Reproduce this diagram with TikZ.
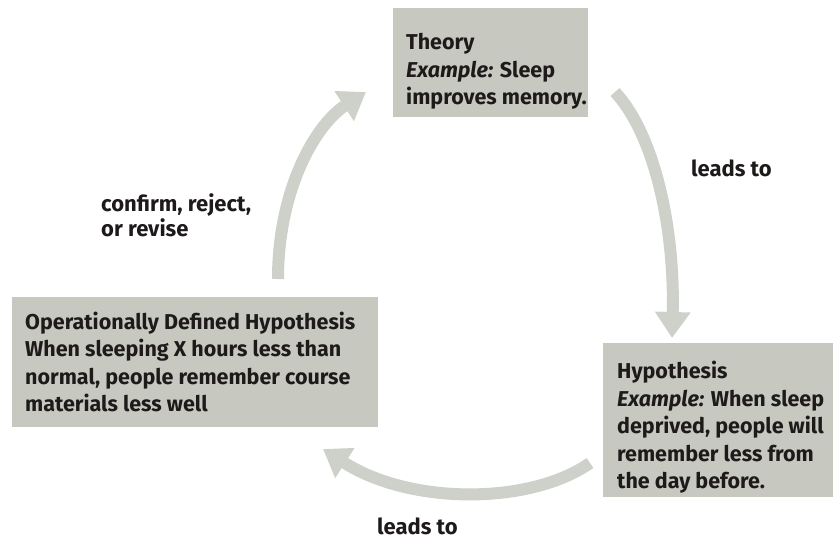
\documentclass[tikz,border=0pt]{standalone}
\usepackage{fontspec}
\setmainfont{Fira Sans}
\usetikzlibrary{arrows.meta}
\definecolor{boxgray}{RGB}{199,200,192}
\definecolor{arrowgray}{RGB}{206,208,202}
\definecolor{ink}{RGB}{30,26,26}
\tikzset{
  box/.style={draw=none, fill=boxgray, anchor=north west, inner sep=0pt},
  txt/.style={anchor=west, align=left, inner sep=0pt, text=ink,
    font=\fontsize{21.5}{27.5}\selectfont\bfseries},
  lbl/.style={text=ink, align=left, inner sep=0pt,
    font=\fontsize{22}{25}\selectfont\bfseries},
  cyc/.style={draw=arrowgray, line width=12pt,
    -{Triangle[width=34pt,length=26pt]}, arrowgray},
}
\begin{document}
\begin{tikzpicture}[x=1pt,y=-1pt]
\useasboundingbox (0,0) rectangle (833,542);
\node[box, minimum width=195pt, minimum height=109pt] (theory) at (393,8) {};
\node[box, minimum width=230pt, minimum height=154pt] (hyp) at (603,343) {};
\node[box, minimum width=366pt, minimum height=130pt] (op) at (12,297) {};
\node[txt] (theoryt) at ([xshift=13pt,yshift=-9pt]theory.west)
  {Theory\\\textit{Example:} Sleep\\improves memory.};
\node[txt] (hypt) at ([xshift=14pt,yshift=-7pt]hyp.west)
  {Hypothesis\\\textit{Example:} When sleep\\deprived, people will\\remember less from\\the day before.};
\node[txt] (opt) at ([xshift=13pt,yshift=0pt]op.west)
  {Operationally Defined Hypothesis\\When sleeping X hours less than\\normal, people remember course\\materials less well};
\coordinate (a1s) at (615,92);
\coordinate (a1e) at (672,338);
\coordinate (a2s) at (590,463);
\coordinate (a2e) at (323,449);
\coordinate (a3s) at (278,279);
\coordinate (a3e) at (366,92);
\draw[cyc] (a1s) .. controls (655,135) and (675,230) .. (a1e);
\draw[cyc] (a2s) .. controls (530,505) and (410,505) .. (a2e);
\draw[cyc] (a3s) .. controls (278,190) and (315,125) .. (a3e);
\node[lbl, anchor=west] (l1) at (691,168) {leads to};
\node[lbl, anchor=west] (l2) at (377,526) {leads to};
\node[lbl, anchor=west] (l3) at (101,215) {confirm, reject,\\or revise};
\end{tikzpicture}
\end{document}
